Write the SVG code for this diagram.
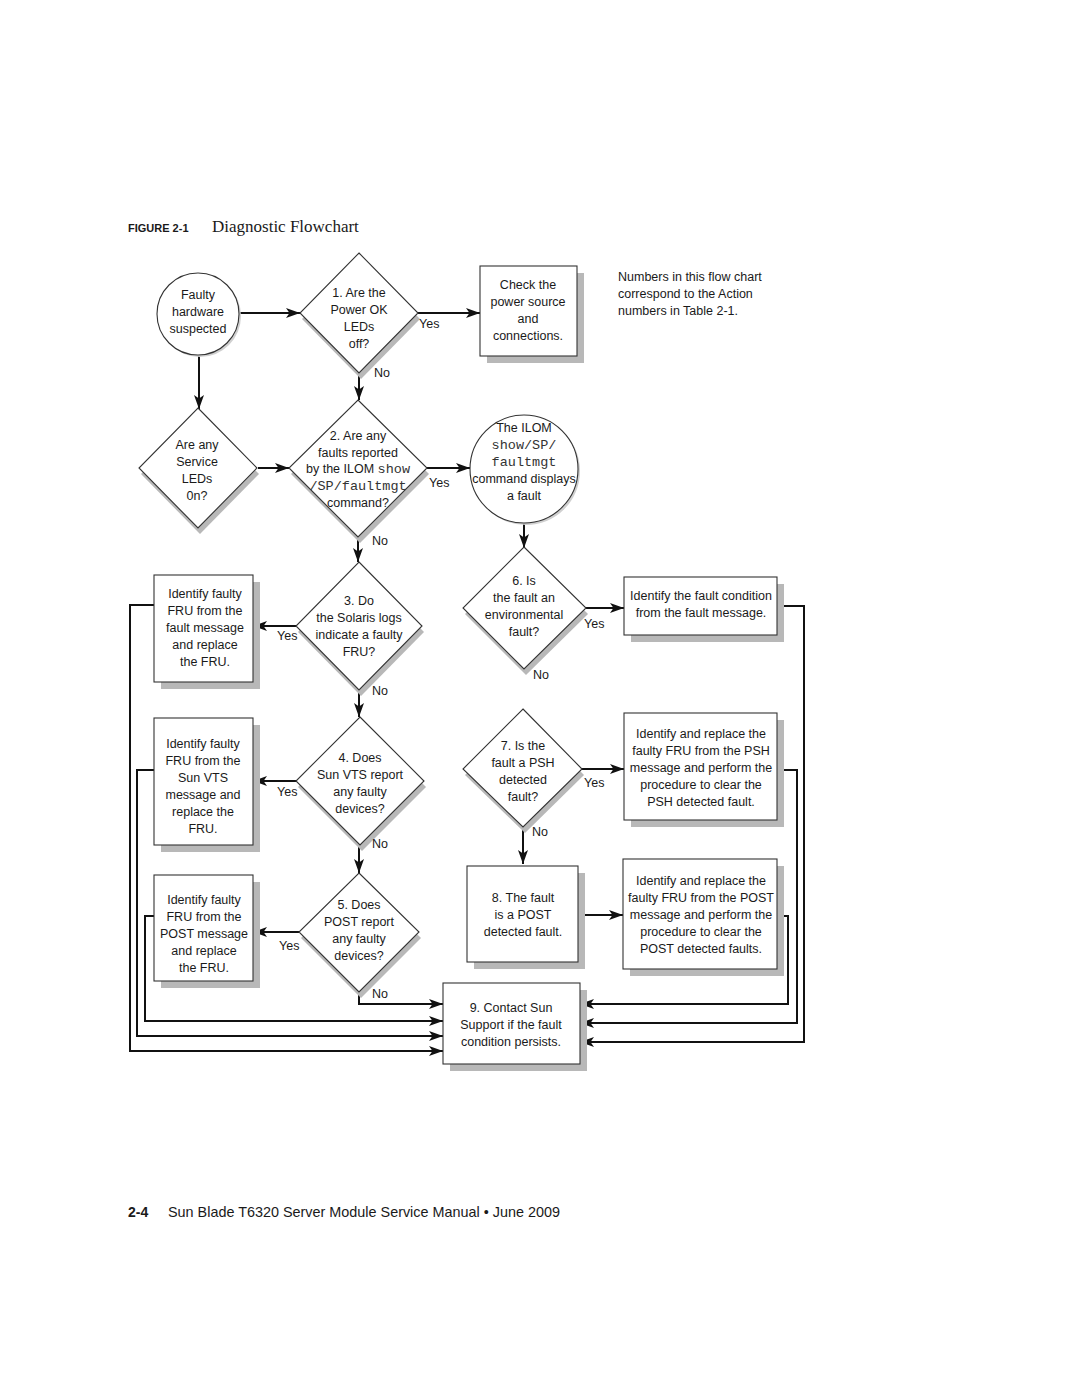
<svg xmlns="http://www.w3.org/2000/svg" width="1080" height="1397" viewBox="0 0 1080 1397">
<style>
.t{font-family:"Liberation Sans",Arial,sans-serif;font-size:12.5px;fill:#1a1a1a;text-anchor:middle}
.l{font-family:"Liberation Sans",Arial,sans-serif;font-size:12.5px;fill:#1a1a1a}
.m{font-family:"Liberation Mono","Courier New",monospace;font-size:13.5px;fill:#333}
.shape{fill:#fff;stroke:#333;stroke-width:1.1}
.sh{fill:#b8b8b8;stroke:none}
.c{fill:none;stroke:#111;stroke-width:2}
</style>
<defs>
<marker id="ah" markerUnits="userSpaceOnUse" markerWidth="16" markerHeight="12" refX="14" refY="6" orient="auto">
<path d="M0,1 L14,6 L0,11 L3.5,6 z" fill="#111"/>
</marker>
</defs>
<rect width="1080" height="1397" fill="#fff"/>

<text x="128" y="232" font-family="'Liberation Sans',Arial,sans-serif" font-size="11" font-weight="bold" fill="#1a1a1a">FIGURE 2-1</text>
<text x="212" y="232" font-family="'Liberation Serif','Times New Roman',serif" font-size="17" fill="#1a1a1a">Diagnostic Flowchart</text>

<g id="note">
<text class="l" x="618" y="281">Numbers in this flow chart</text>
<text class="l" x="618" y="298">correspond to the Action</text>
<text class="l" x="618" y="315">numbers in Table 2-1.</text>
</g>

<g id="connectors">
<path class="c" d="M239,313 H300" marker-end="url(#ah)"/>
<path class="c" d="M418,313 H480" marker-end="url(#ah)"/>
<path class="c" d="M359,373 V400" marker-end="url(#ah)"/>
<path class="c" d="M199,355 V409" marker-end="url(#ah)"/>
<path class="c" d="M258,468 H289" marker-end="url(#ah)"/>
<path class="c" d="M427,468 H470" marker-end="url(#ah)"/>
<path class="c" d="M524,523 V548" marker-end="url(#ah)"/>
<path class="c" d="M358,537 V562" marker-end="url(#ah)"/>
<path class="c" d="M296,626 H253" marker-end="url(#ah)"/>
<path class="c" d="M586,608 H624" marker-end="url(#ah)"/>
<path class="c" d="M359,690 V717" marker-end="url(#ah)"/>
<path class="c" d="M296,781 H253" marker-end="url(#ah)"/>
<path class="c" d="M582,769 H624" marker-end="url(#ah)"/>
<path class="c" d="M523,827 V864" marker-end="url(#ah)"/>
<path class="c" d="M359,845 V873" marker-end="url(#ah)"/>
<path class="c" d="M299,932 H253" marker-end="url(#ah)"/>
<path class="c" d="M578,915 H623" marker-end="url(#ah)"/>
<path class="c" d="M359,992 V1004 H443" marker-end="url(#ah)"/>
<path class="c" d="M154,916 H145 V1021 H443" marker-end="url(#ah)"/>
<path class="c" d="M154,770 H137 V1036 H443" marker-end="url(#ah)"/>
<path class="c" d="M154,605 H130 V1051 H443" marker-end="url(#ah)"/>
<path class="c" d="M777,916 H788 V1004 H580" marker-end="url(#ah)"/>
<path class="c" d="M777,770 H797 V1023 H580" marker-end="url(#ah)"/>
<path class="c" d="M777,606 H804 V1042 H580" marker-end="url(#ah)"/>
</g>

<g id="start">
<circle cx="200" cy="316" r="41" fill="#d0d0d0"/>
<circle class="shape" cx="198" cy="314" r="41"/>
<text class="t" x="198" y="299">Faulty</text>
<text class="t" x="198" y="316">hardware</text>
<text class="t" x="198" y="333">suspected</text>
</g>

<g id="d1">
<polygon class="sh" points="361,259 420,319 361,379 302,319"/>
<polygon class="shape" points="359,253 418,313 359,373 300,313"/>
<text class="t" x="359" y="297">1. Are the</text>
<text class="t" x="359" y="314">Power OK</text>
<text class="t" x="359" y="331">LEDs</text>
<text class="t" x="359" y="348">off?</text>
<text class="l" x="419" y="328">Yes</text>
<text class="l" x="374" y="377">No</text>
</g>

<g id="check">
<rect class="sh" x="487" y="273" width="97" height="90"/>
<rect class="shape" x="480" y="266" width="97" height="90"/>
<text class="t" x="528" y="289">Check the</text>
<text class="t" x="528" y="306">power source</text>
<text class="t" x="528" y="323">and</text>
<text class="t" x="528" y="340">connections.</text>
</g>

<g id="service">
<polygon class="sh" points="200,414 259,474 200,534 141,474"/>
<polygon class="shape" points="198,408 257,468 198,528 139,468"/>
<text class="t" x="197" y="449">Are any</text>
<text class="t" x="197" y="466">Service</text>
<text class="t" x="197" y="483">LEDs</text>
<text class="t" x="197" y="500">0n?</text>
</g>

<g id="d2">
<polygon class="sh" points="360,406 429,474 360,543 291,474"/>
<polygon class="shape" points="358,400 427,468 358,537 289,468"/>
<text class="t" x="358" y="440">2. Are any</text>
<text class="t" x="358" y="457">faults reported</text>
<text class="t" x="358" y="473">by the ILOM <tspan class="m">show</tspan></text>
<text class="t" x="358" y="490"><tspan class="m">/SP/faultmgt</tspan></text>
<text class="t" x="358" y="507">command?</text>
<text class="l" x="429" y="487">Yes</text>
<text class="l" x="372" y="545">No</text>
</g>

<g id="ilom">
<circle cx="526" cy="471" r="54" fill="#d0d0d0"/>
<circle class="shape" cx="524" cy="469" r="54"/>
<text class="t" x="524" y="432">The ILOM</text>
<text class="t" x="524" y="449"><tspan class="m">show/SP/</tspan></text>
<text class="t" x="524" y="466"><tspan class="m">faultmgt</tspan></text>
<text class="t" x="524" y="483">command displays</text>
<text class="t" x="524" y="500">a fault</text>
</g>

<g id="d3">
<polygon class="sh" points="361,568 424,632 361,696 298,632"/>
<polygon class="shape" points="359,562 422,626 359,690 296,626"/>
<text class="t" x="359" y="605">3. Do</text>
<text class="t" x="359" y="622">the Solaris logs</text>
<text class="t" x="359" y="639">indicate a faulty</text>
<text class="t" x="359" y="656">FRU?</text>
<text class="l" x="277" y="640">Yes</text>
<text class="l" x="372" y="695">No</text>
</g>

<g id="box3">
<rect class="sh" x="161" y="582" width="99" height="107"/>
<rect class="shape" x="154" y="575" width="99" height="107"/>
<text class="t" x="205" y="598">Identify faulty</text>
<text class="t" x="205" y="615">FRU from the</text>
<text class="t" x="205" y="632">fault message</text>
<text class="t" x="205" y="649">and replace</text>
<text class="t" x="205" y="666">the FRU.</text>
</g>

<g id="d6">
<polygon class="sh" points="526,553 588,614 526,675 465,614"/>
<polygon class="shape" points="524,547 586,608 524,669 463,608"/>
<text class="t" x="524" y="585">6. Is</text>
<text class="t" x="524" y="602">the fault an</text>
<text class="t" x="524" y="619">environmental</text>
<text class="t" x="524" y="636">fault?</text>
<text class="l" x="584" y="628">Yes</text>
<text class="l" x="533" y="679">No</text>
</g>

<g id="env">
<rect class="sh" x="631" y="584" width="153" height="58"/>
<rect class="shape" x="624" y="577" width="153" height="58"/>
<text class="t" x="701" y="600">Identify the fault condition</text>
<text class="t" x="701" y="617">from the fault message.</text>
</g>

<g id="d4">
<polygon class="sh" points="362,723 426,787 362,851 298,787"/>
<polygon class="shape" points="360,717 424,781 360,845 296,781"/>
<text class="t" x="360" y="762">4. Does</text>
<text class="t" x="360" y="779">Sun VTS report</text>
<text class="t" x="360" y="796">any faulty</text>
<text class="t" x="360" y="813">devices?</text>
<text class="l" x="277" y="796">Yes</text>
<text class="l" x="372" y="848">No</text>
</g>

<g id="box4">
<rect class="sh" x="161" y="725" width="99" height="127"/>
<rect class="shape" x="154" y="718" width="99" height="127"/>
<text class="t" x="203" y="748">Identify faulty</text>
<text class="t" x="203" y="765">FRU from the</text>
<text class="t" x="203" y="782">Sun VTS</text>
<text class="t" x="203" y="799">message and</text>
<text class="t" x="203" y="816">replace the</text>
<text class="t" x="203" y="833">FRU.</text>
</g>

<g id="d7">
<polygon class="sh" points="525,715 584,775 525,833 465,775"/>
<polygon class="shape" points="523,709 582,769 523,827 463,769"/>
<text class="t" x="523" y="750">7. Is the</text>
<text class="t" x="523" y="767">fault a PSH</text>
<text class="t" x="523" y="784">detected</text>
<text class="t" x="523" y="801">fault?</text>
<text class="l" x="584" y="787">Yes</text>
<text class="l" x="532" y="836">No</text>
</g>

<g id="psh">
<rect class="sh" x="631" y="720" width="153" height="107"/>
<rect class="shape" x="624" y="713" width="153" height="107"/>
<text class="t" x="701" y="738">Identify and replace the</text>
<text class="t" x="701" y="755">faulty FRU from the PSH</text>
<text class="t" x="701" y="772">message and perform the</text>
<text class="t" x="701" y="789">procedure to clear the</text>
<text class="t" x="701" y="806">PSH detected fault.</text>
</g>

<g id="d5">
<polygon class="sh" points="361,879 421,938 361,998 301,938"/>
<polygon class="shape" points="359,873 419,932 359,992 299,932"/>
<text class="t" x="359" y="909">5. Does</text>
<text class="t" x="359" y="926">POST report</text>
<text class="t" x="359" y="943">any faulty</text>
<text class="t" x="359" y="960">devices?</text>
<text class="l" x="279" y="950">Yes</text>
<text class="l" x="372" y="998">No</text>
</g>

<g id="box5">
<rect class="sh" x="161" y="882" width="99" height="106"/>
<rect class="shape" x="154" y="875" width="99" height="106"/>
<text class="t" x="204" y="904">Identify faulty</text>
<text class="t" x="204" y="921">FRU from the</text>
<text class="t" x="204" y="938">POST message</text>
<text class="t" x="204" y="955">and replace</text>
<text class="t" x="204" y="972">the FRU.</text>
</g>

<g id="box8">
<rect class="sh" x="474" y="873" width="111" height="96"/>
<rect class="shape" x="467" y="866" width="111" height="96"/>
<text class="t" x="523" y="902">8. The fault</text>
<text class="t" x="523" y="919">is a POST</text>
<text class="t" x="523" y="936">detected fault.</text>
</g>

<g id="post">
<rect class="sh" x="630" y="866" width="154" height="110"/>
<rect class="shape" x="623" y="859" width="154" height="110"/>
<text class="t" x="701" y="885">Identify and replace the</text>
<text class="t" x="701" y="902">faulty FRU from the POST</text>
<text class="t" x="701" y="919">message and perform the</text>
<text class="t" x="701" y="936">procedure to clear the</text>
<text class="t" x="701" y="953">POST detected faults.</text>
</g>

<g id="box9">
<rect class="sh" x="450" y="990" width="137" height="81"/>
<rect class="shape" x="443" y="983" width="137" height="81"/>
<text class="t" x="511" y="1012">9. Contact Sun</text>
<text class="t" x="511" y="1029">Support if the fault</text>
<text class="t" x="511" y="1046">condition persists.</text>
</g>

<g id="footer">
<text x="128" y="1217" font-family="'Liberation Sans',Arial,sans-serif" font-size="14" font-weight="bold" fill="#1a1a1a">2-4</text>
<text x="168" y="1217" font-family="'Liberation Sans',Arial,sans-serif" font-size="14.4" fill="#1a1a1a">Sun Blade T6320 Server Module Service Manual • June 2009</text>
</g>
</svg>
